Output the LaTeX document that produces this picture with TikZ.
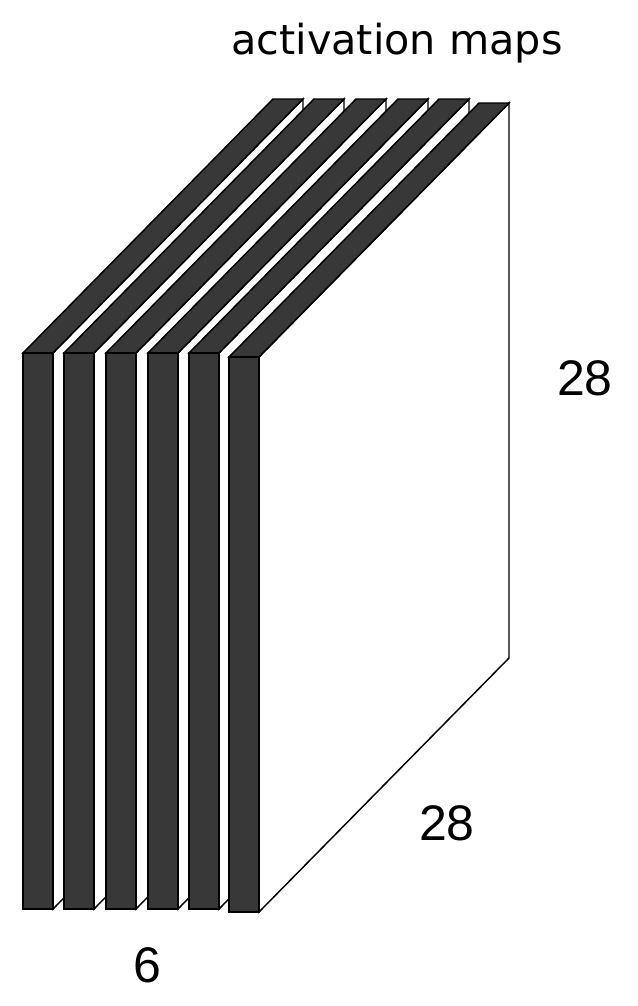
\documentclass[tikz,border=0pt]{standalone}
\usepackage{fontspec}
\setmainfont{Liberation Sans}
\newfontfamily\titlefont{DejaVu Sans}
\definecolor{slabgray}{RGB}{56,56,56}

\begin{document}
\begin{tikzpicture}[x=0.75pt,y=-0.75pt,line width=1.1pt,line join=miter]

% Canvas
\useasboundingbox (0,0) rectangle (637,1006);

% Slab width and depth offset
\def\w{30}
\def\dx{250}
\def\dy{-254}

% Six maps, drawn from left to right
\foreach \i/\x/\t/\b in {1/23/353/909, 2/64/353/909, 3/106/353/909,
                         4/148/353/909, 5/189/353/909, 6/229/357/912} {
  % Front corners
  \coordinate (A\i) at (\x,\b);
  \coordinate (B\i) at (\x+\w,\b);
  \coordinate (C\i) at (\x+\w,\t);
  \coordinate (D\i) at (\x,\t);

  % Side face
  \draw[fill=white] (C\i) -- ++(\dx,\dy) -- ++(0,\b-\t) -- (B\i) -- cycle;

  % Top face
  \draw[fill=slabgray] (D\i) -- ++(\dx,\dy) -- ++(\w,0) -- (C\i) -- cycle;

  % Front face
  \draw[fill=slabgray] (A\i) -- (B\i) -- (C\i) -- (D\i) -- cycle;
}

% Labels
\node[anchor=base, font=\titlefont\fontsize{31}{37}\selectfont] (title) at (397,55) {activation maps};
\node[anchor=base, font=\fontsize{37.5}{45}\selectfont] (height) at (585,395) {28};
\node[anchor=base, font=\fontsize{37.5}{45}\selectfont] (width) at (447,840) {28};
\node[anchor=base, font=\fontsize{37.5}{45}\selectfont] (depth) at (147,982) {6};

\end{tikzpicture}
\end{document}
